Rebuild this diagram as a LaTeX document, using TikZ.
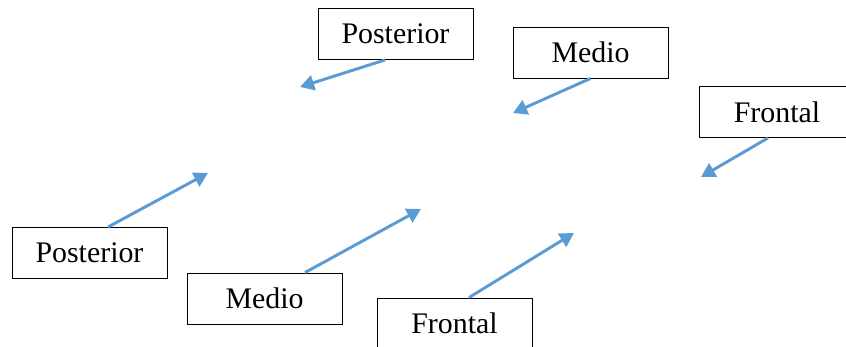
\documentclass[tikz,border=0pt]{standalone}
\usepackage{fontspec}
\setmainfont{Liberation Serif}
\usetikzlibrary{arrows.meta, calc}
\definecolor{arrowblue}{RGB}{91,155,213}

\begin{document}
\begin{tikzpicture}[
    x=0.03cm, y=-0.03cm,
    region/.style={rectangle, draw, line width=0.8pt, fill=white, minimum width=4.65cm, minimum height=1.53cm, inner sep=0pt, font=\fontsize{25.5}{30}\selectfont},
    pointer/.style={draw=arrowblue, line width=2.5pt, -{Triangle[length=12pt, width=13pt]}}
]
\useasboundingbox (0,0) rectangle (846,347);

% Upper row
\node[region] (postA) at (395.5,34) {Posterior};
\node[region] (medA) at (590.5,52.5) {Medio};
\node[region] (frontA) at (777,112) {Frontal};

% Lower row
\node[region] (postB) at (89.5,253) {Posterior};
\node[region] (medB) at (264.5,298.5) {Medio};
\node[region] (frontB) at (454.5,323.5) {Frontal};

% Arrow tips
\coordinate (tipPostA) at (300,87);
\coordinate (tipMedA) at (513,113);
\coordinate (tipFrontA) at (701,177);
\coordinate (tipPostB) at (208,173);
\coordinate (tipMedB) at (421,209);
\coordinate (tipFrontB) at (574,233);

% Arrows
\draw[pointer] ($(postA.south)+(-10.5,0)$) -- (tipPostA);
\draw[pointer] (medA.south) -- (tipMedA);
\draw[pointer] ($(frontA.south)+(-9,0)$) -- (tipFrontA);
\draw[pointer] ($(postB.north)+(18.5,0)$) -- (tipPostB);
\draw[pointer] ($(medB.north)+(40.5,0)$) -- (tipMedB);
\draw[pointer] ($(frontB.north)+(14.5,0)$) -- (tipFrontB);

\end{tikzpicture}
\end{document}
